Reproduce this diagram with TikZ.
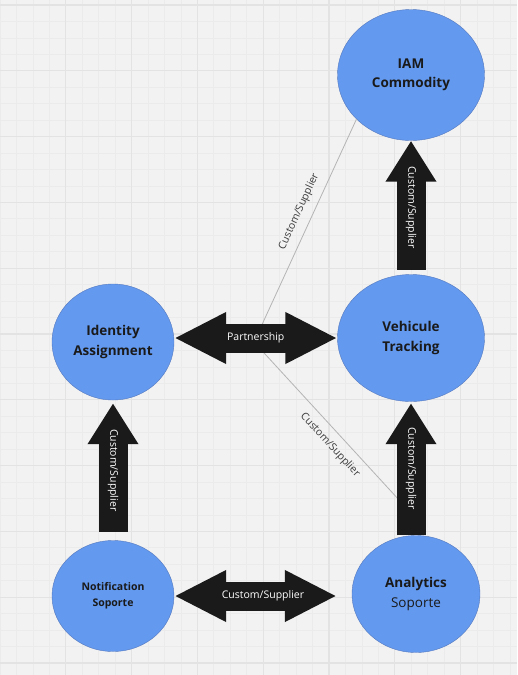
\documentclass[tikz,border=0pt]{standalone}
\usepackage{fontspec}
\setmainfont{Open Sans}
\usepackage{tikz}
\usetikzlibrary{shapes.geometric, arrows.meta}

\definecolor{ctxblue}{RGB}{99,153,239}
\definecolor{ctxedge}{RGB}{84,120,190}
\definecolor{inkblack}{RGB}{26,26,26}
\definecolor{paper}{RGB}{242,242,242}
\definecolor{gridminor}{RGB}{235,235,235}
\definecolor{gridmajor}{RGB}{227,227,227}
\definecolor{relgray}{RGB}{180,180,180}

\begin{document}
\begin{tikzpicture}[x=1pt, y=-1pt,
	ctx/.style={shape=ellipse, fill=ctxblue, draw=ctxedge, line width=0.4pt,
		inner sep=0pt, align=center, text=inkblack,
		font=\bfseries\fontsize{13.5}{19.5}\selectfont},
	fatarrow/.style={draw=inkblack, line width=29pt},
	fatlabel/.style={text=white, font=\fontsize{10.5}{12}\selectfont, inner sep=0pt},
	rel/.style={draw=relgray, line width=0.8pt},
	rellabel/.style={text=inkblack!85, font=\fontsize{10.5}{12}\selectfont, sloped, inner sep=8pt}
	]
	\useasboundingbox (0,0) rectangle (517,675);
	\fill[paper] (0,0) rectangle (517,675);
	\foreach \k in {0,...,31}
		\draw[gridminor, line width=0.8pt] (\k*16.45,0) -- (\k*16.45,675);
	\foreach \k in {0,...,40}
		\draw[gridminor, line width=0.8pt] (0,5+\k*16.45) -- (517,5+\k*16.45);
	\foreach \k in {1,...,7}
		\draw[gridmajor, line width=1.2pt] (\k*65.8,0) -- (\k*65.8,675);
	\foreach \k in {0,...,10}
		\draw[gridmajor, line width=1.2pt] (0,5+\k*65.8) -- (517,5+\k*65.8);
	
	\node[ctx, minimum width=147pt, minimum height=131pt] (iam) at (411,75) {IAM\\Commodity};
	\node[ctx, minimum width=147pt, minimum height=127pt] (vehicule) at (411,338) {Vehicule\\Tracking};
	\node[ctx, minimum width=122pt, minimum height=116pt] (identity) at (113,342) {Identity\\Assignment};
	\node[ctx, minimum width=122pt, minimum height=111pt, font=\bfseries\fontsize{10.5}{16}\selectfont] (notification) at (113,596) {Notification\\Soporte};
	\node[ctx, minimum width=128pt, minimum height=117pt] (analytics) at (416,594) {Analytics\\{\mdseries Soporte}};
	
	\coordinate (bend) at (254,342);
	\coordinate (relend) at (400,501);
	\draw[rel] (iam.219) -- node[rellabel, above, pos=.44] {Custom/Supplier} (bend)
		-- node[rellabel, below, pos=.59] {Custom/Supplier} (relend);
	
	\draw[fatarrow, -{Triangle[width=48pt, length=41pt]}, shorten <=4.5pt] (vehicule.north) -- node[fatlabel, rotate=-90] {Custom/Supplier} (iam.south);
	\draw[fatarrow, -{Triangle[width=48pt, length=41pt]}, shorten >=1.5pt] (vehicule.south |- analytics.north) -- node[fatlabel, rotate=-90] {Custom/Supplier} (vehicule.south);
	\draw[fatarrow, -{Triangle[width=48pt, length=41pt]}, shorten <=8.5pt, shorten >=3pt] (notification.north) -- node[fatlabel, rotate=-90] {Custom/Supplier} (identity.south);
	
	\draw[fatarrow, {Triangle[width=48pt, length=52pt]}-{Triangle[width=48pt, length=52pt]}] (identity.east |- vehicule.west) -- node[fatlabel] {Partnership} (vehicule.west);
	\draw[fatarrow, {Triangle[width=48pt, length=52pt]}-{Triangle[width=48pt, length=52pt]}, shorten >=15pt] (notification.east) -- node[fatlabel] {Custom/Supplier} (notification.east -| analytics.west);
\end{tikzpicture}
\end{document}
